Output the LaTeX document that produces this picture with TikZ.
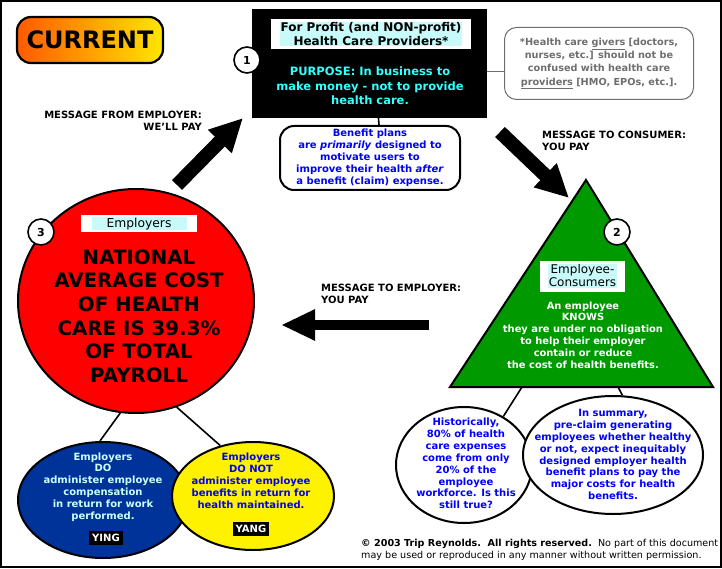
\documentclass[tikz,border=0pt]{standalone}
\usepackage{fontspec}
\setmainfont{DejaVu Sans}
\usetikzlibrary{shapes.geometric,arrows.meta}
\definecolor{tblue}{RGB}{0,0,255}
\definecolor{tcyan}{RGB}{51,255,255}
\definecolor{lcyan}{RGB}{204,255,255}
\definecolor{hcyan}{RGB}{200,250,250}
\definecolor{dblue}{RGB}{0,51,153}
\definecolor{tgreen}{RGB}{0,153,0}
\definecolor{notegray}{RGB}{110,110,110}
\definecolor{cur1}{RGB}{255,90,0}
\definecolor{cur2}{RGB}{255,230,0}
\newcommand\myfs[2]{\fontsize{#1}{#2}\selectfont}
\begin{document}
\begin{tikzpicture}[x=1pt,y=-1pt,
  numc/.style={circle,draw,line width=1.6pt,fill=white,minimum size=26pt,inner sep=0pt,font=\bfseries\myfs{11}{12}},
  msg/.style={font=\bfseries\myfs{10}{12},inner sep=0pt},
  bluetxt/.style={text=tblue,align=center,inner sep=0pt,font=\bfseries\myfs{10}{11.9}},
  bub/.style={ellipse,draw,line width=2pt,inner sep=0pt},
  fatarrow/.style={line width=14pt,-{Triangle[length=33pt,width=31pt]}},
  conn/.style={line width=1.6pt},
  tag/.style={fill=black,text=white,font=\bfseries\myfs{10}{10},inner sep=3pt}
]
\useasboundingbox (0,0) rectangle (722,569);
\node[draw,line width=2pt,minimum width=720pt,minimum height=566pt,inner sep=0pt] (frame) at (361,284) {};

% CURRENT
\node[draw,line width=2.2pt,rounded corners=14pt,left color=cur1,right color=cur2,
  minimum width=146pt,minimum height=46pt,inner sep=0pt,font=\bfseries\myfs{24}{26}] (cur) at (90,40) {CURRENT};

% Providers box
\node[fill=black,minimum width=235pt,minimum height=109pt,inner sep=0pt] (prov) at (369.5,63.5) {};
\node[fill=white,minimum width=200pt,minimum height=30pt,inner sep=0pt] (provlbl) at (371,34) {};
\node[fill=hcyan,inner sep=1pt,align=center,font=\bfseries\myfs{12}{13.5}] (provtxt) at (371,34) {For Profit (and NON-profit)\\Health Care Providers*};
\node[text=tcyan,align=center,inner sep=0pt,font=\bfseries\myfs{11.5}{14.5}] (purp) at (370,86) {PURPOSE: In business to\\make money - not to provide\\health care.};
\node[numc] (c1) at (247,60) {1};

% Note
\node[draw=notegray,line width=1pt,rounded corners=12pt,minimum width=189pt,minimum height=72pt,
  text=notegray,align=center,inner sep=0pt,font=\bfseries\myfs{9.7}{13.3}] (note) at (599,63.5)
  {*Health care \underline{givers} [doctors,\\nurses, etc.] should not be\\confused with health care\\\underline{providers} [HMO, EPOs, etc.].};
\draw[notegray,line width=1pt] ([yshift=-8.5pt]note.west) -- ([yshift=-8.5pt]note.west -| prov.east);

% Benefit box
\node[draw,line width=2pt,fill=white,rounded corners=14pt,minimum width=180pt,minimum height=64pt,inner sep=0pt] (ben) at (370,158) {};
\node[bluetxt] (bentxt) at (370,158) {Benefit plans\\are \textit{primarily} designed to\\motivate users to\\improve their health \textit{after}\\a benefit (claim) expense.};
\draw[conn] ([xshift=9pt]prov.south) -- ([xshift=9pt]ben.north);

% Messages
\node[msg,anchor=east,align=right] (mfe) at (202,121) {MESSAGE FROM EMPLOYER:\\WE'LL PAY};
\node[msg,anchor=west,align=left] (mtc) at (542,141) {MESSAGE TO CONSUMER:\\YOU PAY};
\node[msg,anchor=west,align=left] (mte) at (321,294) {MESSAGE TO EMPLOYER:\\YOU PAY};

% Arrows
\coordinate (a1s) at (177,185); \coordinate (a1e) at (243,118);
\coordinate (a2s) at (500,132); \coordinate (a2e) at (569,198);
\coordinate (a3s) at (429,325); \coordinate (a3e) at (281,325);
\draw[fatarrow] (a1s) -- (a1e);
\draw[fatarrow] (a2s) -- (a2e);
\draw[line width=10pt,-{Triangle[length=34pt,width=29pt]}] (a3s) -- (a3e);

% Triangle
\coordinate (triA) at (586,180);
\coordinate (triL) at (450,387);
\coordinate (triR) at (713,387);
\draw[line width=2pt,fill=tgreen,line join=miter] (triA) -- (triL) -- (triR) -- cycle;
\node[numc] (c2) at (617,232) {2};
\node[fill=white,minimum width=85pt,minimum height=31pt,inner sep=0pt] (eclbl) at (582.5,276) {};
\node[fill=hcyan,inner sep=0.5pt,align=center,font=\myfs{12}{13}] (ectxt) at (582.5,276) {Employee-\\Consumers};
\node[text=white,align=center,inner sep=0pt,font=\bfseries\myfs{9.9}{11.8}] (tritxt) at (583,335) {An employee\\KNOWS\\they are under no obligation\\to help their employer\\contain or reduce\\the cost of health benefits.};

% Employers circle
\node[bub,fill=red,minimum width=236pt,minimum height=224pt] (emp) at (136,301) {};
\node[numc] (c3) at (41,232) {3};
\node[fill=white,minimum width=116pt,minimum height=17pt,inner sep=0pt] (emplbl) at (139,224) {};
\node[fill=hcyan,minimum width=95pt,minimum height=13pt,inner sep=0pt,font=\myfs{12.3}{12}] (emptxt) at (139,224) {Employers};
\node[align=center,inner sep=0pt,font=\bfseries\myfs{19.8}{23.6}] (bigtxt) at (139,316) {NATIONAL\\AVERAGE COST\\OF HEALTH\\CARE IS 39.3\%\\OF TOTAL\\PAYROLL};

% Ying / Yang
\node[bub,fill=dblue,minimum width=170pt,minimum height=116pt] (ying) at (103,500) {};
\node[bub,fill=yellow,minimum width=162pt,minimum height=108pt] (yang) at (253,496) {};
\draw[conn] (emp.-98) -- (ying.93);
\draw[conn] (emp.-69) -- (yang.123);
\node[bluetxt,text=lcyan] (yingtxt) at (103,487) {Employers\\DO\\administer employee\\compensation\\in return for work\\performed.};
\node[tag] (yinglbl) at (106,538) {YING};
\node[bluetxt] (yangtxt) at (251,481) {Employers\\DO NOT\\administer employee\\benefits in return for\\health maintained.};
\node[tag] (yanglbl) at (251,529) {YANG};

% Consumer bubbles
\node[bub,fill=white,minimum width=136pt,minimum height=116pt] (hist) at (464,465) {};
\node[bub,fill=white,minimum width=180pt,minimum height=118pt] (summ) at (613,455) {};
\coordinate (bL) at (522,387);
\coordinate (bR) at (618,387);
\draw[conn] (bL) -- (hist.51);
\draw[conn] (bR) -- (summ.81);
\node[bluetxt] (histtxt) at (466,463.5) {Historically,\\80\% of health\\care expenses\\come from only\\20\% of the\\employee\\workforce. Is this\\still true?};
\node[bluetxt] (summtxt) at (613,454.5) {In summary,\\pre-claim generating\\employees whether healthy\\or not, expect inequitably\\designed employer health\\benefit plans to pay the\\major costs for health\\benefits.};

% Copyright
\node[anchor=west,align=left,inner sep=0pt,font=\myfs{9.6}{12}] (copy) at (361,550)
  {\textbf{© 2003 Trip Reynolds.\ \ All rights reserved.}\ \ No part of this document\\may be used or reproduced in any manner without written permission.};
\end{tikzpicture}
\end{document}
